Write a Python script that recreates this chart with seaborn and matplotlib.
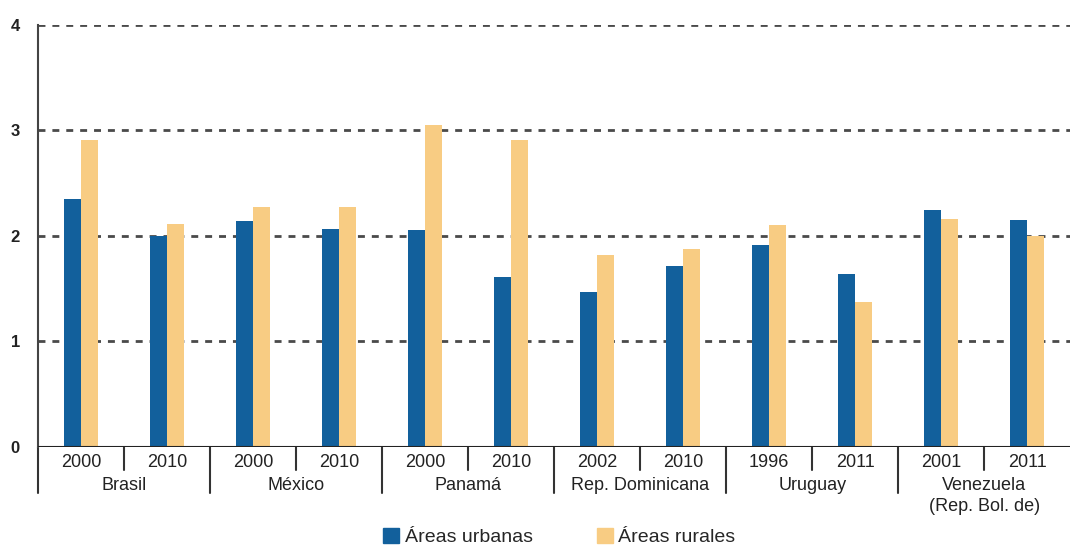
import matplotlib.pyplot as plt
import matplotlib.transforms as mtransforms
import pandas as pd
import seaborn as sns
from matplotlib.patches import Patch

countries = ["Brasil", "México", "Panamá", "Rep. Dominicana", "Uruguay", "Venezuela\n(Rep. Bol. de)"]
years = ["2000", "2010", "2000", "2010", "2000", "2010", "2002", "2010", "1996", "2011", "2001", "2011"]
urbanas = [2.35, 2.00, 2.14, 2.07, 2.06, 1.61, 1.47, 1.72, 1.91, 1.64, 2.25, 2.15]
rurales = [2.91, 2.11, 2.27, 2.27, 3.05, 2.91, 1.82, 1.88, 2.10, 1.37, 2.16, 2.00]
series = ["Áreas urbanas", "Áreas rurales"]
colors = ["#12609c", "#f8cc83"]

keys = [f"{i:02d}" for i in range(len(years))]
df = pd.DataFrame({
    "key": keys * 2,
    "valor": urbanas + rurales,
    "area": [series[0]] * len(keys) + [series[1]] * len(keys),
})

sns.set_style("white")
plt.rcParams["font.family"] = ["Liberation Sans", "DejaVu Sans"]

fig = plt.figure(figsize=(10.76, 5.55), dpi=100)
ax = fig.add_axes([0.0353, 0.1946, 0.9594, 0.7604])

sns.barplot(data=df, x="key", y="valor", hue="area", order=keys, hue_order=series,
            palette=colors, width=0.4, gap=0, saturation=1, linewidth=0,
            legend=False, ax=ax)

ax.set_ylim(0, 4)
ax.set_xlim(-0.5, len(keys) - 0.5)
ax.set_yticks([0, 1, 2, 3, 4])
ax.set_yticklabels(["0", "1", "2", "3", "4"], fontsize=12, fontweight="bold", color="#222222")
for y in [1, 2, 3, 4]:
    ax.axhline(y, color="#4a4a4a", lw=2, ls=(0, (2.5, 2.5)), zorder=0)

for side in ["top", "right", "bottom"]:
    ax.spines[side].set_visible(False)
ax.spines["left"].set_color("#444444")
ax.spines["left"].set_linewidth(1.5)
ax.axhline(0, color="#222222", lw=1.5, zorder=3)
ax.tick_params(axis="y", length=6, width=1.5, direction="inout", color="#444444", pad=10)
ax.tick_params(axis="x", length=0, pad=5)
ax.set_xticks(range(len(keys)))
ax.set_xticklabels(years, fontsize=13, color="#222222")
ax.set_xlabel("")
ax.set_ylabel("")

trans = mtransforms.blended_transform_factory(ax.transData, ax.transAxes)
for i in range(len(keys)):
    x = i - 0.5
    low = -0.055 if i % 2 == 1 else -0.108
    ax.plot([x, x], [0, low], transform=trans, color="#333333", lw=1.5, clip_on=False)

for j, name in enumerate(countries):
    ax.text(2 * j + 0.5, -0.071, name, transform=trans, ha="center", va="top",
            fontsize=13, color="#222222", linespacing=1.3)

handles = [Patch(color=c, label=s) for c, s in zip(colors, series)]
fig.legend(handles=handles, loc="lower center", bbox_to_anchor=(0.52, -0.015), ncol=2,
           frameon=False, fontsize=14, handlelength=0.8, handleheight=0.8,
           handletextpad=0.3, columnspacing=3.3)

fig.savefig("out.png", dpi=100)
